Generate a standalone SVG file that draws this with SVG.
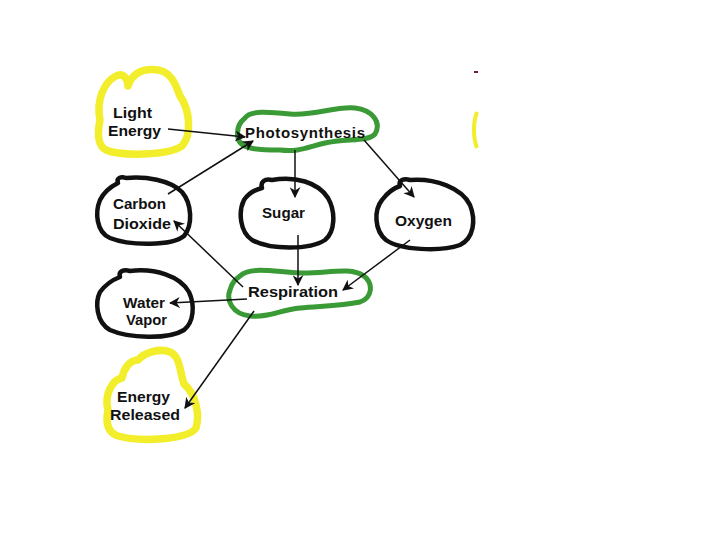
<svg xmlns="http://www.w3.org/2000/svg" width="720" height="540" viewBox="0 0 720 540">
<style>
.blk{fill:none;stroke:#111;stroke-width:4.5;stroke-linejoin:round}
.yel{fill:none;stroke:#f2ee2c;stroke-width:7.5;stroke-linejoin:round}
.grn{fill:none;stroke:#3a9a36;stroke-width:5;stroke-linejoin:round}
.t{font-family:"Liberation Sans",Arial,Helvetica,sans-serif;font-weight:bold;font-size:15px;fill:#111}
.c{fill:none;stroke:#111;stroke-width:1.5}
</style>
<defs>
<marker id="ah" viewBox="0 0 10 10" refX="9" refY="5" markerWidth="11" markerHeight="11" orient="auto" markerUnits="userSpaceOnUse">
<path d="M0,0 L10,5 L0,10 L3,5 Z" fill="#111"/>
</marker>
</defs>
<rect width="720" height="540" fill="#fff"/>
<rect x="474" y="71" width="4" height="2" fill="#7a1838"/>
<path d="M477,112 C473,122 473,138 477,148" fill="none" stroke="#f2ee2c" stroke-width="4"/>

<g id="light-energy">
<path class="yel" d="M100,120 C96,100 104,82 116,76 C124,72 128,80 128,86 C132,74 142,68 158,70 C172,72 176,86 180,96 C190,110 192,135 182,146 C168,156 120,156 106,150 C96,145 98,130 100,120 Z"/>
<text class="t" x="113" y="118" textLength="39" lengthAdjust="spacingAndGlyphs">Light</text>
<text class="t" x="108" y="136" textLength="53" lengthAdjust="spacingAndGlyphs">Energy</text>
</g>
<g id="photosynthesis">
<path class="grn" d="M245,118 C250,110 270,112 290,114 C315,116 335,106 355,108 C372,110 382,122 375,134 C368,142 345,138 325,143 C305,148 298,152 280,150 C262,150 240,150 238,138 C236,128 240,122 245,118 Z"/>
<text class="t" x="245" y="138" textLength="120" lengthAdjust="spacing">Photosynthesis</text>
</g>
<g id="carbon-dioxide">
<path class="blk" d="M118,183 C116,178 121,176 126,178 C145,176 170,180 182,192 C192,204 193,225 184,236 C172,246 130,246 110,238 C96,232 95,212 100,200 C104,192 110,187 118,183 Z"/>
<text class="t" x="113" y="209" textLength="53" lengthAdjust="spacingAndGlyphs">Carbon</text>
<text class="t" x="113" y="229" textLength="58" lengthAdjust="spacingAndGlyphs">Dioxide</text>
</g>
<g id="sugar">
<path class="blk" d="M262,188 C260,182 265,178 272,180 C295,176 318,182 328,198 C336,212 335,232 325,240 C310,250 270,250 252,240 C240,232 238,212 244,200 C248,194 254,190 262,188 Z"/>
<text class="t" x="262" y="218" textLength="43" lengthAdjust="spacingAndGlyphs">Sugar</text>
</g>
<g id="oxygen">
<path class="blk" d="M400,186 C398,180 404,178 410,180 C435,178 462,188 470,205 C476,220 474,238 460,245 C440,252 400,250 386,240 C374,230 374,210 382,200 C388,192 394,188 400,186 Z"/>
<text class="t" x="395" y="226" textLength="57" lengthAdjust="spacingAndGlyphs">Oxygen</text>
</g>
<g id="respiration">
<path class="grn" d="M240,276 C250,266 275,272 300,273 C325,274 350,266 364,276 C374,284 372,298 360,302 C340,306 320,306 300,308 C280,310 268,318 250,316 C232,314 226,300 230,290 C232,282 236,279 240,276 Z"/>
<text class="t" x="248" y="297" textLength="90" lengthAdjust="spacingAndGlyphs">Respiration</text>
</g>
<g id="water-vapor">
<path class="blk" d="M120,277 C118,271 124,269 130,271 C155,268 180,276 189,292 C195,305 194,322 184,330 C168,340 128,338 110,330 C96,322 95,302 100,292 C106,284 112,280 120,277 Z"/>
<text class="t" x="123" y="308" textLength="42" lengthAdjust="spacingAndGlyphs">Water</text>
<text class="t" x="126" y="325" textLength="41" lengthAdjust="spacingAndGlyphs">Vapor</text>
</g>
<g id="energy-released">
<path class="yel" d="M108,410 C104,395 112,380 122,378 C124,368 130,360 138,360 C145,352 160,348 170,352 C180,356 180,372 184,384 C196,394 200,415 196,428 C188,440 140,442 118,436 C106,432 106,420 108,410 Z"/>
<text class="t" x="117" y="402" textLength="53" lengthAdjust="spacingAndGlyphs">Energy</text>
<text class="t" x="110" y="420" textLength="70" lengthAdjust="spacingAndGlyphs">Released</text>
</g>

<g id="connectors">
<line class="c" x1="168" y1="129" x2="245" y2="137" marker-end="url(#ah)"/>
<line class="c" x1="168" y1="194" x2="253" y2="141" marker-end="url(#ah)"/>
<line class="c" x1="295" y1="150" x2="295" y2="197" marker-end="url(#ah)"/>
<line class="c" x1="364" y1="140" x2="414" y2="197" marker-end="url(#ah)"/>
<line class="c" x1="298" y1="235" x2="298" y2="285" marker-end="url(#ah)"/>
<line class="c" x1="410" y1="240" x2="343" y2="290" marker-end="url(#ah)"/>
<line class="c" x1="243" y1="287" x2="174" y2="221" marker-end="url(#ah)"/>
<line class="c" x1="247" y1="299" x2="170" y2="303" marker-end="url(#ah)"/>
<line class="c" x1="254" y1="311" x2="185" y2="408" marker-end="url(#ah)"/>
</g>
</svg>
